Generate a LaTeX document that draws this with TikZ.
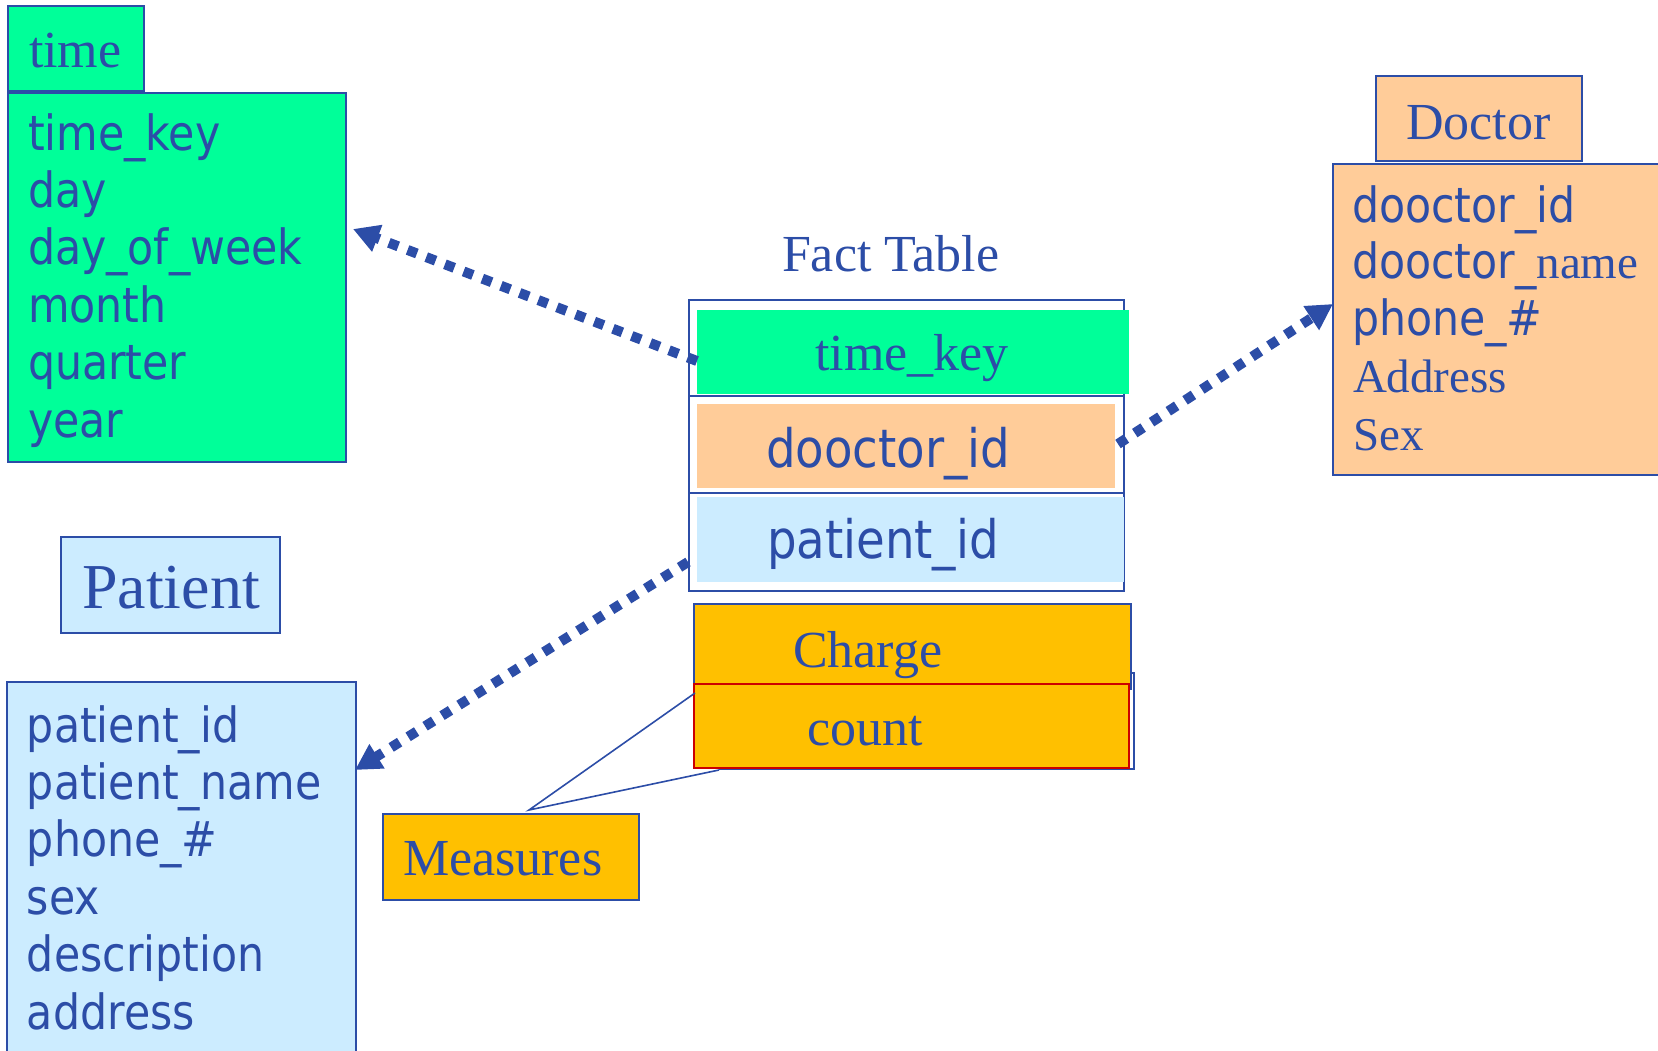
\documentclass[tikz,border=0pt]{standalone}
\usepackage{fontspec}
\setmainfont{Liberation Serif}
\newfontfamily\tah[FakeStretch=0.88]{DejaVu Sans}
\usetikzlibrary{arrows.meta}

\definecolor{ink}{RGB}{44,77,167}
\definecolor{mint}{RGB}{0,255,153}
\definecolor{peach}{RGB}{255,204,153}
\definecolor{sky}{RGB}{204,236,255}
\definecolor{gold}{RGB}{255,192,0}
\definecolor{brick}{RGB}{204,0,0}

\tikzset{
  tbl/.style={draw=ink, line width=2pt, anchor=north west, inner sep=0pt, outer sep=0pt},
  band/.style={draw=none, anchor=north west, inner sep=0pt, outer sep=0pt},
  lbl/.style={anchor=base west, inner sep=0pt, outer sep=0pt, text=ink},
  sansM/.style={font=\tah\fontsize{48.5}{57}\selectfont},
  sansL/.style={font=\tah\fontsize{53}{60}\selectfont},
  serifM/.style={font=\fontsize{47}{56}\selectfont},
  serifL/.style={font=\fontsize{52}{60}\selectfont},
  serifXL/.style={font=\fontsize{64}{72}\selectfont},
  link/.style={draw=ink, line width=10pt, dash pattern=on 10pt off 10pt,
    -{Triangle[length=26pt,width=27pt]}},
  callout/.style={draw=ink, line width=1.6pt}
}

\begin{document}
\begin{tikzpicture}[x=1pt,y=-1pt]
\useasboundingbox (0,0) rectangle (1658,1050);
\clip (0,0) rectangle (1658,1050);

% ---------- time dimension ----------
\node[tbl, fill=mint, minimum width=136pt, minimum height=85pt] (timeHead) at (8,6) {};
\node[lbl, serifL] (timeTitle) at (29,67) {time};
\node[tbl, fill=mint, minimum width=338pt, minimum height=369pt] (timeBox) at (8,93) {};
\foreach \t [count=\i] in {time\_key, day, day\_of\_week, month, quarter, year}
  \node[lbl, sansM] (timeRow\i) at (28,{150+57.4*(\i-1)}) {\t};

% ---------- doctor dimension ----------
\node[tbl, fill=peach, minimum width=206pt, minimum height=85pt] (docHead) at (1376,76) {};
\node[lbl, serifL] (docTitle) at (1406,139) {Doctor};
\node[tbl, fill=peach, minimum width=340pt, minimum height=311pt] (docBox) at (1333,164) {};
\node[lbl, sansM] (docRow1) at (1352,222) {dooctor\_id};
\node[lbl, sansM] (docRow2) at (1352,278) {dooctor\_{\rmfamily\fontsize{47}{56}\selectfont name}};
\node[lbl, sansM] (docRow3) at (1352,335) {phone\_\#};
\node[lbl, serifM] (docRow4) at (1353,392) {Address};
\node[lbl, serifM] (docRow5) at (1353,450) {Sex};

% ---------- patient dimension ----------
\node[tbl, fill=sky, minimum width=219pt, minimum height=96pt] (patHead) at (61,537) {};
\node[lbl, serifXL] (patTitle) at (82,608) {Patient};
\node[tbl, fill=sky, minimum width=349pt, minimum height=390pt] (patBox) at (7,682) {};
\foreach \t [count=\i] in {patient\_id, patient\_name, phone\_\#, sex, description, address}
  \node[lbl, sansM] (patRow\i) at (27,{742+57.4*(\i-1)}) {\t};

% ---------- fact table ----------
\node[lbl, serifL] (factTitle) at (782,271) {Fact Table};
\node[tbl, fill=white, minimum width=435pt, minimum height=96pt] (factRow1) at (689,300) {};
\node[tbl, fill=white, minimum width=435pt, minimum height=97pt] (factRow2) at (689,396) {};
\node[tbl, fill=white, minimum width=435pt, minimum height=98pt] (factRow3) at (689,493) {};
\node[band, fill=mint, minimum width=432pt, minimum height=84pt] (timeBand) at (697,310) {};
\node[band, fill=peach, minimum width=418pt, minimum height=84pt] (docBand) at (697,404) {};
\node[band, fill=sky, minimum width=427pt, minimum height=85pt] (patBand) at (697,497) {};
\node[anchor=base, inner sep=0pt, text=ink, serifL] (factTime) at (912,370) {time\_key};
\node[lbl, sansL] (factDoc) at (766,467) {dooctor\_id};
\node[lbl, sansL] (factPat) at (767,558) {patient\_id};

% ---------- measures ----------
\node[tbl, fill=white, minimum width=414pt, minimum height=96pt] (measBack) at (720,673) {};
\node[tbl, fill=gold, minimum width=437pt, minimum height=85pt] (chargeBox) at (694,604) {};
\node[lbl, serifL] (chargeText) at (793,667) {Charge};
\node[tbl, draw=brick, fill=gold, minimum width=435pt, minimum height=84pt] (countBox) at (694,684) {};
\node[lbl, serifL] (countText) at (807,745) {count};
\node[tbl, fill=gold, minimum width=256pt, minimum height=86pt] (measBox) at (383,814) {};
\node[lbl, serifL] (measText) at (403,875) {Measures};

% callout from the Measures label
\coordinate (calloutTip) at (529,810);
\coordinate (calloutA) at (695,693);
\coordinate (calloutB) at (719,770);
\draw[callout] (calloutA) -- (calloutTip) -- (calloutB);

% ---------- foreign-key links ----------
\coordinate (linkTimeStart) at (697,361);
\coordinate (linkTimeEnd) at (353,229);
\coordinate (linkDocStart) at (1118,444);
\coordinate (linkDocEnd) at (1333,304);
\coordinate (linkPatStart) at (688,562);
\coordinate (linkPatEnd) at (355,770);
\draw[link] (linkTimeStart) -- (linkTimeEnd);
\draw[link] (linkDocStart) -- (linkDocEnd);
\draw[link] (linkPatStart) -- (linkPatEnd);
\end{tikzpicture}
\end{document}
